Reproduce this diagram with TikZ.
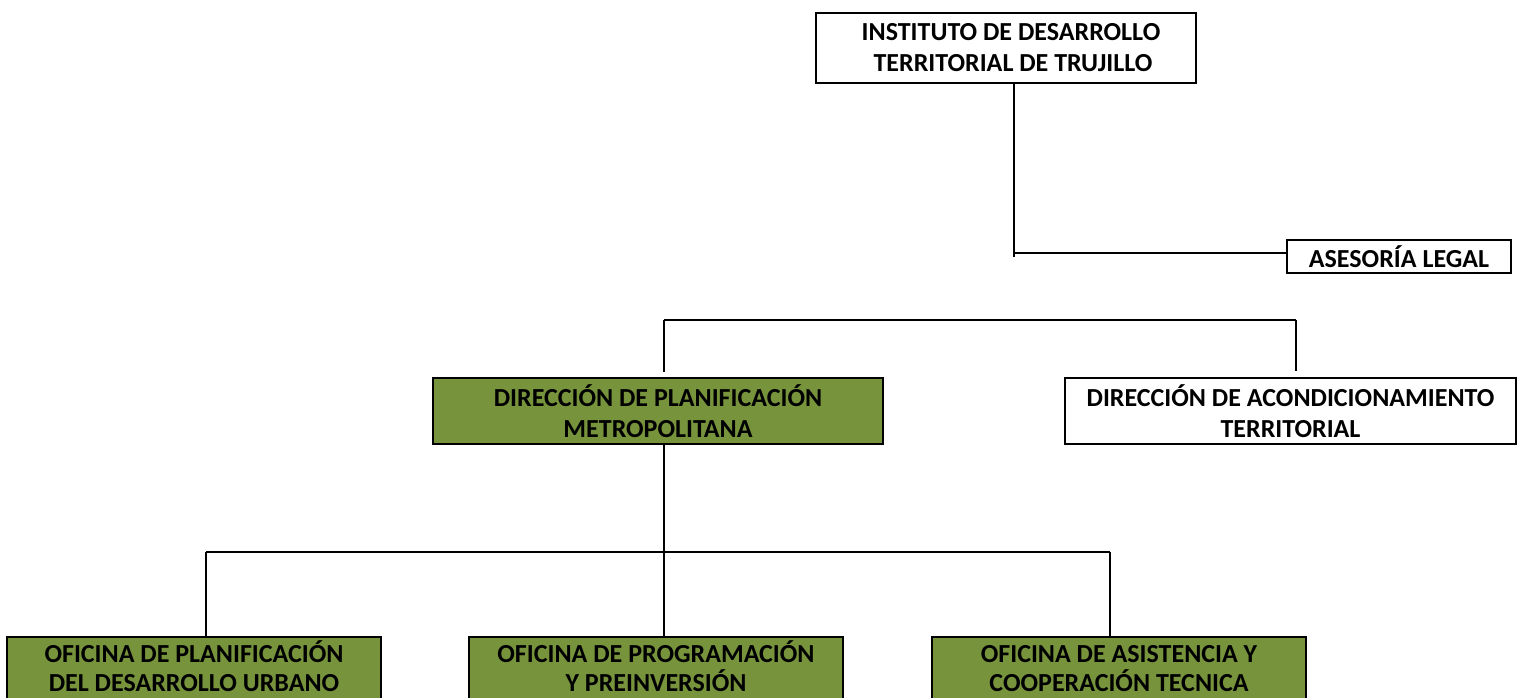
\documentclass[tikz,border=0pt]{standalone}
\usepackage{fontspec}
\setmainfont{Carlito}
\definecolor{olive}{RGB}{119,147,60}
\tikzset{
  box/.style={draw=black, line width=2.5pt, inner sep=0pt, align=center,
    font=\fontsize{26}{31}\selectfont\bfseries},
  wbox/.style={box, fill=white},
  gbox/.style={box, fill=olive},
  obox/.style={gbox, draw=none, outer sep=0pt, minimum width=374, minimum height=58,
    font=\fontsize{26}{29}\selectfont\bfseries},
  oedge/.style={draw=black, line width=2.5pt},
  conn/.style={draw=black, line width=2pt}
}
\begin{document}
\begin{tikzpicture}[x=1pt,y=-1pt]
\useasboundingbox (0,0) rectangle (1522,698);
\clip (0,0) rectangle (1522,698);
\fill[white] (0,0) rectangle (1522,698);
% nodes
\node[wbox, minimum width=380, minimum height=70] (top) at (1006,48) {\hspace*{10pt}INSTITUTO DE DESARROLLO\\\hspace*{14pt}TERRITORIAL DE TRUJILLO};
\node[wbox, minimum width=224, minimum height=33] (legal) at (1399,256.5) {ASESORÍA LEGAL};
\node[gbox, minimum width=450, minimum height=66] (dpm) at (658,411) {DIRECCIÓN DE PLANIFICACIÓN\\METROPOLITANA};
\node[wbox, minimum width=451, minimum height=66] (dat) at (1290.5,411) {DIRECCIÓN DE ACONDICIONAMIENTO\\TERRITORIAL};
\foreach \n/\cx in {o1/194, o2/656, o3/1119}
  \fill[olive] (\cx-187,690) rectangle (\cx+187,705);
\node[obox] (o1) at (194,666) {OFICINA DE PLANIFICACIÓN\\DEL DESARROLLO URBANO};
\node[obox] (o2) at (656,666) {OFICINA DE PROGRAMACIÓN\\Y PREINVERSIÓN};
\node[obox] (o3) at (1119,666) {\vphantom{Ó}OFICINA DE ASISTENCIA Y\\COOPERACIÓN TECNICA};
\foreach \n in {o1,o2,o3}
  \draw[oedge] ([yshift=-15pt]\n.south west) |- (\n.north east) -- ([yshift=-15pt]\n.south east);
% free ends
\coordinate (topend) at (1014,257);
\coordinate (legj) at (1014,253);
\coordinate (barL) at (664,320);
\coordinate (barR) at (1296,320);
\coordinate (dpmend) at (664,638);
\coordinate (bar2L) at (206,552);
\coordinate (bar2R) at (1110,552);
% connectors
\draw[conn] (top.south -| topend) -- (topend);
\draw[conn] (legj) -- (legj -| legal.west);
\draw[conn] (barL) -- (barR);
\draw[conn, shorten >=5pt] (barL) -- (dpm.north -| barL);
\draw[conn, shorten >=6pt] (barR) -- (dat.north -| barR);
\draw[conn] (dpm.south -| dpmend) -- (dpmend);
\draw[conn] (bar2L) -- (bar2R);
\draw[conn] (bar2L) -- (o1.north -| bar2L);
\draw[conn] (bar2R) -- (o3.north -| bar2R);
\end{tikzpicture}
\end{document}
